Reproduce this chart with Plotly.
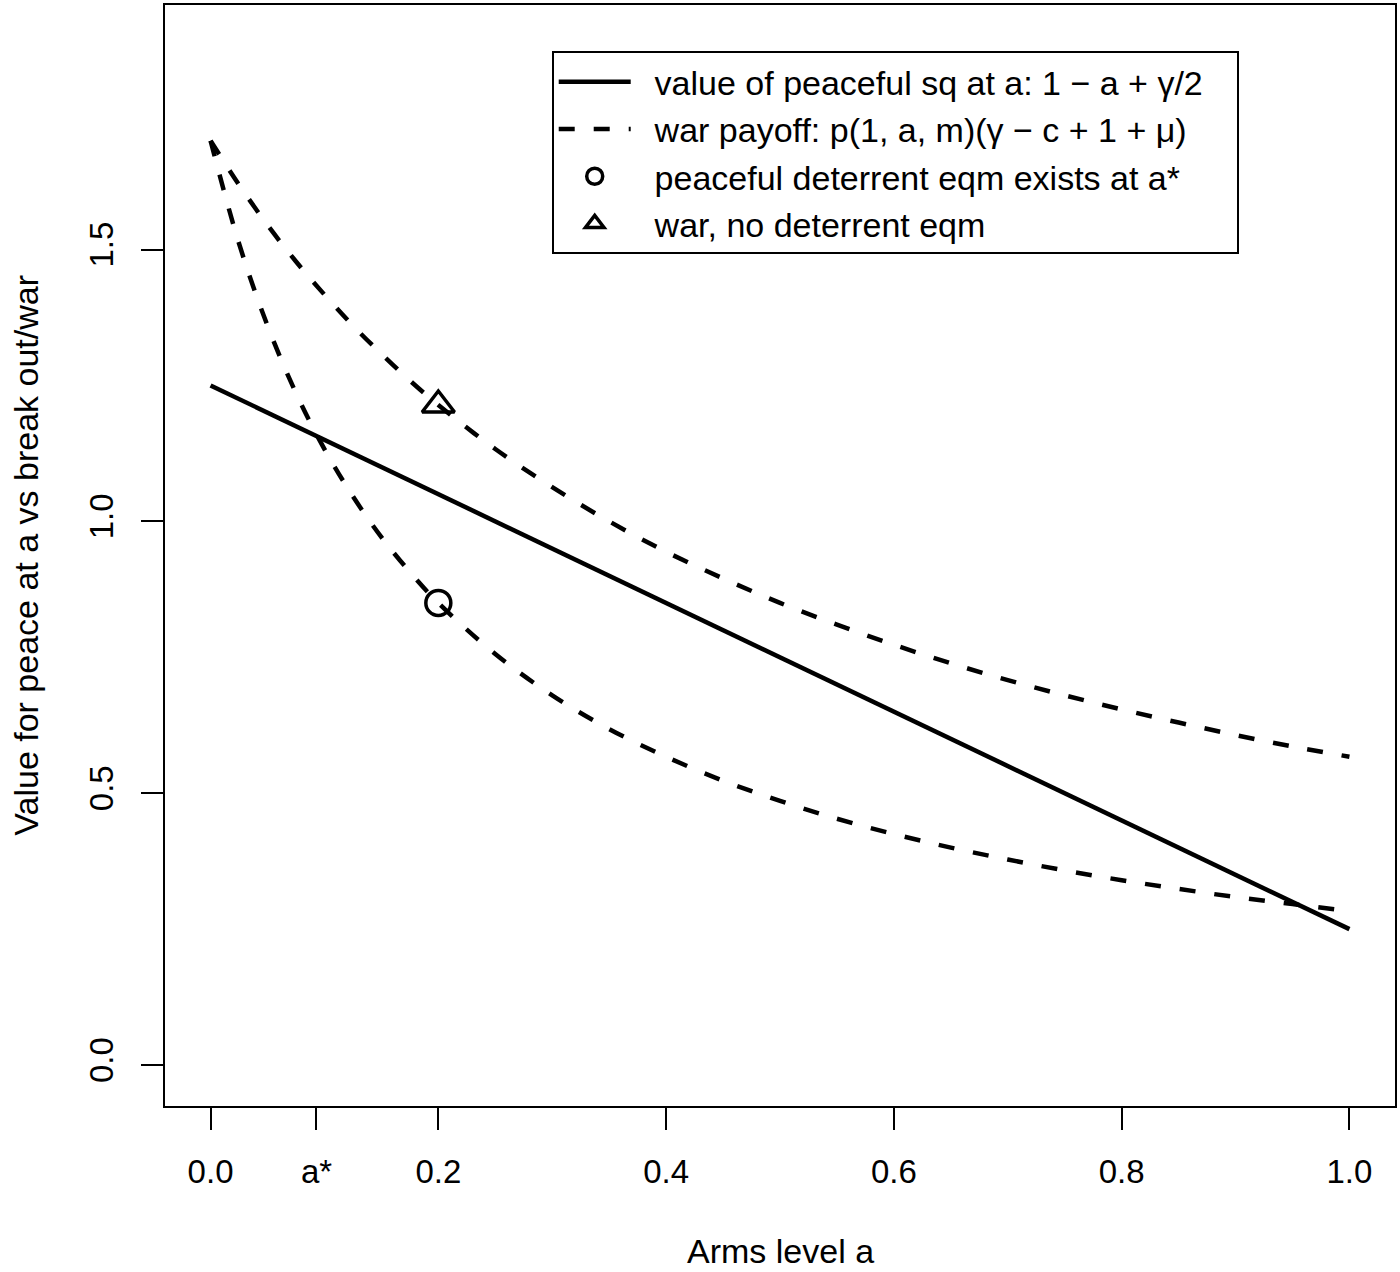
import plotly.graph_objects as go

# ---- data ----
a_grid = [0, 0.025, 0.05, 0.075, 0.1, 0.125, 0.15, 0.175, 0.2, 0.25, 0.3, 0.35, 0.4,
          0.45, 0.5, 0.55, 0.6, 0.65, 0.7, 0.75, 0.8, 0.85, 0.9, 0.95, 1.0]
war_high = [1.700, 1.619, 1.545, 1.478, 1.417, 1.360, 1.308, 1.259, 1.214, 1.133, 1.063,
            1.000, 0.944, 0.895, 0.850, 0.810, 0.773, 0.739, 0.708, 0.680, 0.654, 0.630,
            0.607, 0.586, 0.567]
war_low = [1.700, 1.511, 1.360, 1.236, 1.133, 1.046, 0.971, 0.907, 0.850, 0.756, 0.680,
           0.618, 0.567, 0.523, 0.486, 0.453, 0.425, 0.400, 0.378, 0.358, 0.340, 0.324,
           0.309, 0.296, 0.283]
peace_a = [0.0, 1.0]
peace_v = [1.25, 0.25]
deterrent_pt = (0.2, 0.850)
war_pt = (0.2, 1.214)
x_tickvals = [0.0, 0.093, 0.2, 0.4, 0.6, 0.8, 1.0]
x_ticktext = ["0.0", "a*", "0.2", "0.4", "0.6", "0.8", "1.0"]
y_tickvals = [0.0, 0.5, 1.0, 1.5]
y_ticktext = ["0.0", "0.5", "1.0", "1.5"]

FONT = "Liberation Sans, Arial, Helvetica, sans-serif"
DASH = "16px,19px"
PAD = "\u00a0\u00a0"

fig = go.Figure()
fig.add_trace(go.Scatter(x=peace_a, y=peace_v, mode="lines",
                         line=dict(color="black", width=4.5),
                         name=PAD + "value of peaceful sq at a: 1 \u2212 a + \u03b3/2\u00a0\u00a0\u00a0"))
fig.add_trace(go.Scatter(x=a_grid, y=war_high, mode="lines",
                         line=dict(color="black", width=4.5, dash=DASH, shape="spline"),
                         name=PAD + "war payoff: p(1, a, m)(\u03b3 \u2212 c + 1 + \u03bc)"))
fig.add_trace(go.Scatter(x=a_grid, y=war_low, mode="lines", showlegend=False,
                         line=dict(color="black", width=4.5, dash=DASH, shape="spline")))
fig.add_trace(go.Scatter(x=[deterrent_pt[0]], y=[deterrent_pt[1]], mode="markers",
                         marker=dict(symbol="circle-open", size=25, color="black",
                                     line=dict(width=3.5, color="black")),
                         name=PAD + "peaceful deterrent eqm exists at a*"))
fig.add_trace(go.Scatter(x=[war_pt[0]], y=[war_pt[1]], mode="markers",
                         marker=dict(symbol="triangle-up-open", size=28, color="black",
                                     line=dict(width=3.5, color="black")),
                         name=PAD + "war, no deterrent eqm"))

axis_common = dict(showline=True, mirror=True, linecolor="black", linewidth=2,
                   ticks="outside", ticklen=22, tickwidth=2, tickcolor="black",
                   showgrid=False, zeroline=False,
                   tickfont=dict(family=FONT, size=33, color="black"))

fig.update_layout(
    width=1400, height=1272,
    margin=dict(l=165, r=4, t=3, b=166),
    paper_bgcolor="white", plot_bgcolor="white",
    font=dict(family=FONT, size=34, color="black"),
    xaxis=dict(range=[-0.04, 1.04], tickmode="array", tickvals=x_tickvals,
               ticktext=x_ticktext, ticklabelstandoff=13, **axis_common),
    yaxis=dict(range=[-0.0753, 1.9497], tickmode="array", tickvals=y_tickvals,
               ticktext=y_ticktext, tickangle=-90, ticklabelstandoff=15, **axis_common),
    legend=dict(x=0.3144, y=0.958, xanchor="left", yanchor="top",
                bordercolor="black", borderwidth=2, bgcolor="white",
                font=dict(family=FONT, size=34, color="black"),
                itemwidth=72, tracegroupgap=0),
    annotations=[
        dict(text="Arms level a", xref="paper", yref="paper", x=0.5, y=-0.1315,
             xanchor="center", yanchor="middle", showarrow=False,
             font=dict(family=FONT, size=34, color="black")),
        dict(text="Value for peace at a vs break out/war", xref="paper", yref="paper",
             x=-0.1137, y=0.5, xanchor="center", yanchor="middle", textangle=-90,
             showarrow=False, font=dict(family=FONT, size=34, color="black")),
    ],
)

fig.write_html("out.html", config={"displayModeBar": False},
               post_script="document.body.style.margin='0px';")
